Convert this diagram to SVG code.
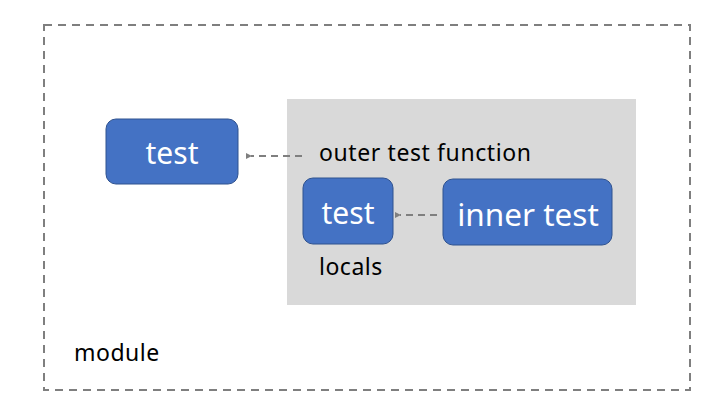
<svg xmlns="http://www.w3.org/2000/svg" width="717" height="412" viewBox="0 0 717 412">
<defs>
<style>
.node{fill:#4472c4;stroke:#2f528f;stroke-width:1}
.nt{fill:#ffffff;font-family:"Noto Sans","Open Sans",sans-serif;text-anchor:middle}
.lbl{fill:#000000;font-family:"Noto Sans","Open Sans",sans-serif;font-size:23px}
.conn{stroke:#7f7f7f;stroke-width:2;stroke-dasharray:7 5;fill:none}
</style>
<marker id="ah" markerWidth="6" markerHeight="6" refX="1" refY="3" orient="auto" markerUnits="userSpaceOnUse">
<path d="M6,0 L0,3 L6,6 Z" fill="#7f7f7f"/>
</marker>
</defs>
<rect width="717" height="412" fill="#ffffff"/>
<g id="module">
<rect x="44" y="25" width="646" height="365" fill="none" stroke="#7f7f7f" stroke-width="2" stroke-dasharray="8 6"/>
<text class="lbl" x="74" y="361" letter-spacing="0.5">module</text>
</g>
<g id="outer-function">
<rect x="287" y="99" width="349" height="206" fill="#d9d9d9"/>
<text class="lbl" x="319" y="161" letter-spacing="0.6">outer test function</text>
<text class="lbl" x="319" y="275" letter-spacing="0.5">locals</text>
</g>
<g id="test-module">
<rect class="node" x="106" y="119" width="132" height="65" rx="10"/>
<text class="nt" x="172" y="164" font-size="30">test</text>
</g>
<g id="test-local">
<rect class="node" x="303" y="178" width="90" height="66" rx="10"/>
<text class="nt" x="348" y="224" font-size="30">test</text>
</g>
<g id="inner-test">
<rect class="node" x="443" y="179" width="169" height="66" rx="10"/>
<text class="nt" x="528" y="226" font-size="31.5">inner test</text>
</g>
<g id="connectors">
<line class="conn" x1="302" y1="156" x2="251" y2="156" marker-end="url(#ah)"/>
<line class="conn" x1="437" y1="215" x2="400" y2="215" marker-end="url(#ah)"/>
</g>
</svg>
